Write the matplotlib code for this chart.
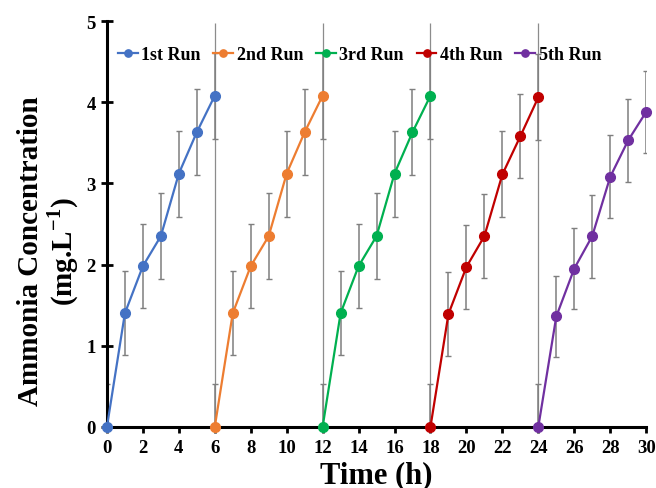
import numpy as np
import matplotlib
matplotlib.use("Agg")
import matplotlib.pyplot as plt

plt.rcParams['font.family'] = ['Liberation Serif', 'DejaVu Serif']
plt.rcParams['font.weight'] = 'bold'
plt.rcParams['mathtext.fontset'] = 'custom'
plt.rcParams['mathtext.rm'] = 'Liberation Serif:bold'
plt.rcParams['mathtext.bf'] = 'Liberation Serif:bold'

# 数据: 每一轮 6 h, 共 5 轮
run_labels = ['1st Run', '2nd Run', '3rd Run', '4th Run', '5th Run']
run_colors = ['#4472C4', '#ED7D31', '#00B050', '#C00000', '#7030A0']
run_hours = [0, 1, 2, 3, 4, 5, 6]
run_values = [
    [0, 1.40, 1.98, 2.35, 3.12, 3.63, 4.08],
    [0, 1.40, 1.98, 2.35, 3.12, 3.63, 4.08],
    [0, 1.40, 1.98, 2.35, 3.12, 3.63, 4.08],
    [0, 1.39, 1.97, 2.35, 3.11, 3.58, 4.06],
    [0, 1.36, 1.95, 2.35, 3.08, 3.53, 3.88],
]
run_errors = [
    [0.53, 0.52, 0.52, 0.53, 0.53, 0.53, 0.53],
    [0.53, 0.52, 0.52, 0.53, 0.53, 0.53, 0.53],
    [0.53, 0.52, 0.52, 0.53, 0.53, 0.53, 0.53],
    [0.53, 0.52, 0.52, 0.52, 0.53, 0.52, 0.53],
    [0.53, 0.50, 0.50, 0.51, 0.51, 0.51, 0.51],
]
run_length = 6
divider_top = 4.97

fig = plt.figure(figsize=(6.56, 4.89), dpi=100)
ax = fig.add_axes([0.163, 0.125, 0.822, 0.83])

for i in range(len(run_labels)):
    x = np.array(run_hours) + i * run_length
    if i > 0:
        ax.vlines(i * run_length, 0, divider_top, color='#8c8c8c', lw=0.9, zorder=1)
    ax.errorbar(x, run_values[i], yerr=run_errors[i], fmt='none',
                ecolor='#7f7f7f', elinewidth=1.1, capsize=2.2, capthick=1.0, zorder=2)
    ax.plot(x, run_values[i], '-o', color=run_colors[i], lw=1.6, ms=7,
            label=run_labels[i], zorder=3, clip_on=False)

ax.set_xlim(0, 30)
ax.set_ylim(0, 5)
ax.set_xticks(np.arange(0, 31, 2))
ax.set_yticks(np.arange(0, 6, 1))
ax.spines['top'].set_visible(False)
ax.spines['right'].set_visible(False)
ax.spines['left'].set_linewidth(2.2)
ax.spines['bottom'].set_linewidth(2.2)
ax.tick_params(axis='x', direction='out', length=4, width=2, labelsize=13.5, pad=5)
ax.tick_params(axis='y', direction='inout', length=8, width=2, labelsize=13.5, pad=4)

ax.set_xlabel('Time (h)', fontsize=22, fontweight='bold', labelpad=3)
ax.set_ylabel('Ammonia Concentration\n(mg.L$^{-1}$)', fontsize=21, fontweight='bold',
              linespacing=1.05)
ax.yaxis.set_label_coords(-0.048, 0.435)

ax.legend(loc='upper left', bbox_to_anchor=(0.0, 0.965), ncol=5, frameon=False,
          fontsize=13, handlelength=1.1, handletextpad=0.2, columnspacing=0.7,
          markerscale=0.75, borderaxespad=0.2)

fig.savefig('out.png', dpi=100)
